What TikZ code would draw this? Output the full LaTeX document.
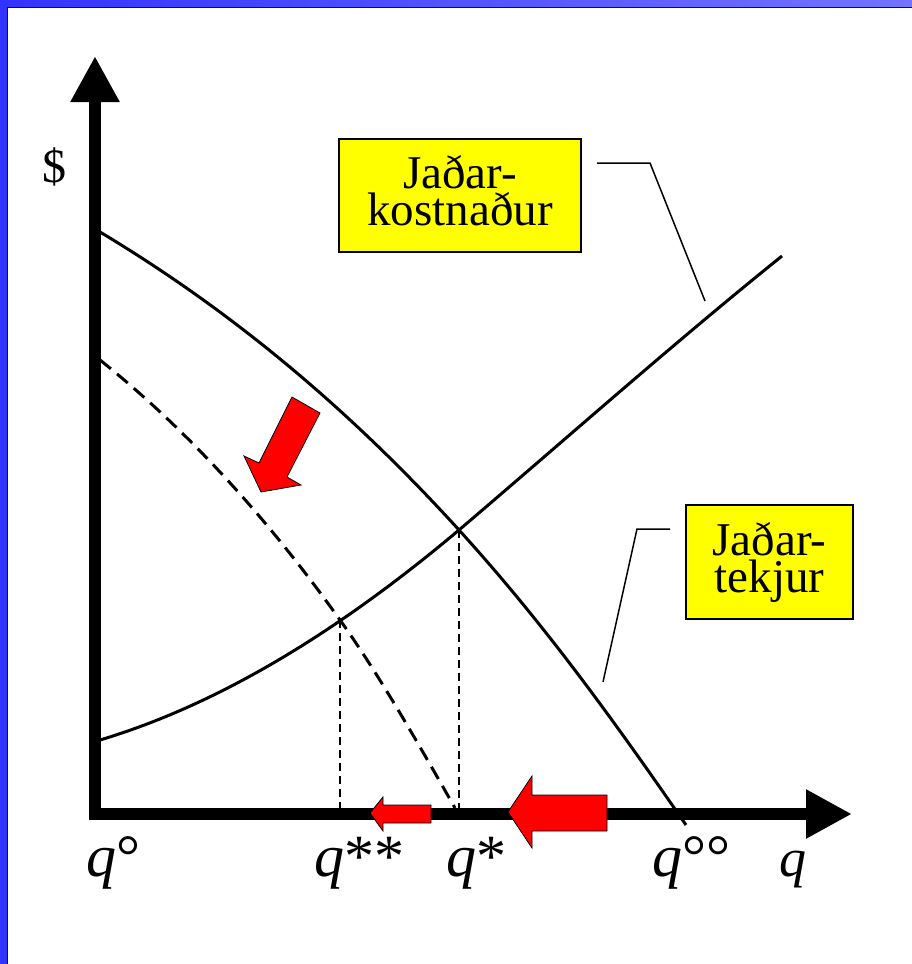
\documentclass[tikz,border=0pt]{standalone}
\usepackage{fontspec}
\setmainfont{Liberation Serif}
\usetikzlibrary{arrows.meta}
\definecolor{frameblue}{HTML}{3333FF}
\definecolor{framelight}{HTML}{7373FF}
\definecolor{framedark}{HTML}{10103A}
\definecolor{boxyellow}{HTML}{FFFF00}
\definecolor{arrred}{HTML}{FF0000}
\tikzset{
  axisline/.style={line width=11.5pt, line join=miter,
    {Triangle[length=46pt,width=46pt]}-{Triangle[length=46pt,width=46pt]}},
  curve/.style={line width=3pt},
  dashcurve/.style={line width=3pt, dash pattern=on 14pt off 8pt},
  guide/.style={line width=1.2pt, dash pattern=on 8pt off 5pt},
  leader/.style={line width=1.5pt},
  labelbox/.style={draw=black, line width=1.5pt, fill=boxyellow, align=center,
    inner sep=2pt, font=\fontsize{47}{37}\selectfont},
  redarrow/.style={fill=arrred, draw=black, line width=0.8pt, line join=miter},
  qlabel/.style={anchor=base west, inner sep=0pt, font=\fontsize{60}{60}\selectfont},
}
\begin{document}
\begin{tikzpicture}[x=1pt,y=-1pt]
\useasboundingbox (0,0) rectangle (912,964);
\fill[white] (0,0) rectangle (912,964);
% frame
\shade[left color=frameblue, right color=framelight] (0,0) rectangle (912,7);
\fill[frameblue] (0,0) rectangle (7,964);
\draw[framedark, line width=1.4pt] (7.7,964) -- (7.7,7.7) -- (912,7.7);

% axes
\coordinate (ytip) at (95,56);
\coordinate (O) at (95,814);
\coordinate (xtip) at (852,814);
\draw[axisline] (ytip) -- (O) -- (xtip);

% key points
\coordinate (Estar) at (459,530);
\coordinate (Edstar) at (340,620);
\coordinate (qstar) at (459,808);
\coordinate (qdstar) at (340,808);

% marginal revenue (solid)
\draw[curve] (100,232) .. controls (220,304) and (339,398) .. (Estar)
  .. controls (539,618) and (606,709) .. (686,825);
% marginal cost
\draw[curve] (100,740) .. controls (220,704) and (339,631) .. (Estar)
  .. controls (567,438) and (675,342) .. (782,256);
% shifted marginal revenue (dashed)
\draw[dashcurve] (100,360) .. controls (180,424) and (260,508) .. (Edstar)
  .. controls (378,673) and (417,741.5) .. (455,808);

% guides
\draw[guide] (Edstar) -- (qdstar);
\draw[guide] (Estar) -- (qstar);

% boxes
\node[labelbox, minimum width=242pt, minimum height=113pt] (mcbox) at (460,195.5) {Jaðar-\\kostnaður\rule[-10pt]{0pt}{10pt}};
\node[labelbox, minimum width=167pt, minimum height=114pt] (mrbox) at (769.5,562) {Jaðar-\\tekjur};

% leaders
\coordinate (mcA) at (597,163);
\coordinate (mcB) at (650,163);
\coordinate (mcC) at (705,301);
\draw[leader] (mcA) -- (mcB) -- (mcC);
\coordinate (mrA) at (670,529);
\coordinate (mrB) at (637,529);
\coordinate (mrC) at (603,682);
\draw[leader] (mrA) -- (mrB) -- (mrC);

% red arrows
\draw[redarrow] (261,492) -- (244,456) -- (259,463) -- (292,397) -- (320,413) -- (287,477) -- (301,485) -- cycle;
\draw[redarrow] (370,813) -- (383,797) -- (383,805) -- (431,805) -- (431,823) -- (383,823) -- (383,831) -- cycle;
\draw[redarrow] (508,812) -- (532,776) -- (532,795) -- (607,795) -- (607,831) -- (532,831) -- (532,848) -- cycle;

% labels
\node[anchor=base west, inner sep=0pt, font=\fontsize{48}{48}\selectfont] (dollar) at (42,182) {\$};
\node[qlabel] (q0) at (86,876) {\textit{q}°};
\node[qlabel] (q2) at (314,876) {\textit{q}**};
\node[qlabel] (q1) at (446,876) {\textit{q}*};
\node[qlabel] (q00) at (652,876) {\textit{q}°°};
\node[qlabel, font=\fontsize{54}{54}\selectfont] (qax) at (779,876) {\textit{q}};
\end{tikzpicture}
\end{document}
